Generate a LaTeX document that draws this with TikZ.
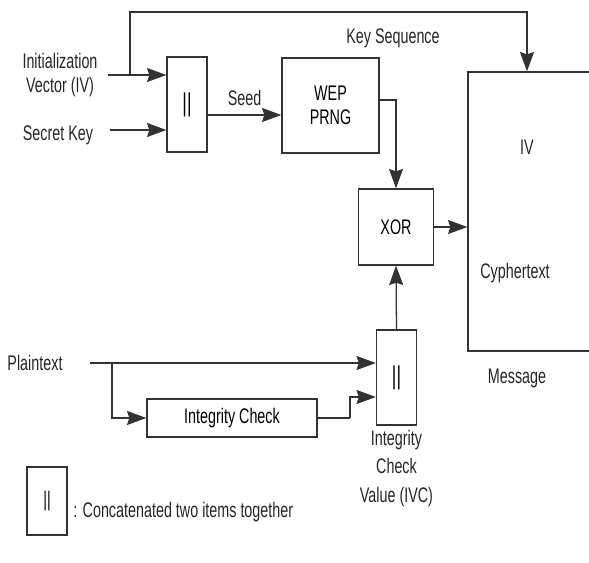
\documentclass[tikz,border=0pt]{standalone}
\usepackage{fontspec}
\setmainfont[FakeStretch=0.68]{Liberation Sans}
\usepackage{tikz}
\usetikzlibrary{arrows.meta,positioning}

\begin{document}
\begin{tikzpicture}[x=0.03cm,y=-0.03cm,
      font=\fontsize{18}{21}\selectfont,
      box/.style={draw=black!80,line width=1.1pt,fill=white,inner sep=0pt,align=center},
      cat/.style={box,minimum width=1.2cm,minimum height=2.85cm,font=\fontsize{22}{22}\selectfont},
      lbl/.style={text=black!85,align=center,inner sep=1pt},
      arr/.style={-{Stealth[length=0.58cm,width=0.42cm,inset=0.07cm]},line width=1.1pt,draw=black!80},
      ln/.style={line width=1.1pt,draw=black!80},
  ]
  \clip (0,0) rectangle (589,563);
  \fill[white] (0,0) rectangle (589,563);

  % Blocks
  \node[cat] (cat1) at (187,104.5) {||};
  \node[box,minimum width=2.91cm,minimum height=2.85cm] (wep) at (330.5,105.5) {WEP\\PRNG};
  \node[box,minimum width=2.25cm,minimum height=2.28cm] (xor) at (396,227) {XOR};
  \node[box,minimum width=3.96cm,minimum height=8.37cm] (msg) at (534,211.5) {};
  \node[cat] (cat2) at (396.5,377.5) {||};
  \node[box,minimum width=5.1cm,minimum height=1.14cm] (ic) at (232,418) {Integrity Check};

  % Inputs
  \node[lbl] (iv) at (60,75) {Initialization\\Vector (IV)};
  \node[lbl] (key) at (58,135) {Secret Key};
  \node[lbl] (pt) at (35,363) {Plaintext};
  \coordinate (ivout) at (108,75);
  \coordinate (ivbr) at (130,75);
  \coordinate (ivtop) at (527,12);
  \coordinate (keyout) at (110,130);
  \coordinate (ptout) at (90,363);
  \coordinate (ptbr) at (112,363);
  \coordinate (icbend) at (350,418);

  % Key stream
  \draw[arr] (ivout) -- (ivout -| cat1.west);
  \draw[arr] (ivbr) |- (ivtop) -- (ivtop |- msg.north);
  \draw[arr] (keyout) -- (keyout -| cat1.west);
  \draw[arr] (cat1.east |- 0,115) -- node[lbl,above=6pt]{Seed} (wep.west |- 0,115);
  \draw[arr] (wep.east |- 0,100) -| (xor.north);
  \draw[arr] (xor.east) -- (xor.east -| msg.west);

  % Plaintext and ICV
  \draw[arr] (ptout) -- (ptout -| cat2.west);
  \draw[arr] (ptbr) |- (ic.west);
  \draw[ln] (ic.east) -- (icbend);
  \draw[arr] (icbend) |- (cat2.west |- 0,397);
  \draw[arr] (cat2.north) -- (xor.south);

  % Labels
  \node[lbl] (kseq) at (393,38) {Key Sequence};
  \node[lbl] (ivin) at (527,147) {IV};
  \node[lbl] (cy) at (515,273) {Cyphertext};
  \node[lbl] (msgl) at (517,378) {Message};
  \node[lbl,below=3pt of cat2,font=\fontsize{18}{24}\selectfont] (icv) {Integrity\\Check\\Value (IVC)};

  % Legend
  \node[box,minimum width=1.2cm,minimum height=2.04cm] (leg) at (47,501) {||};
  \node[lbl,anchor=west] (legt) at (72,512) {: Concatenated two items together};
\end{tikzpicture}
\end{document}
